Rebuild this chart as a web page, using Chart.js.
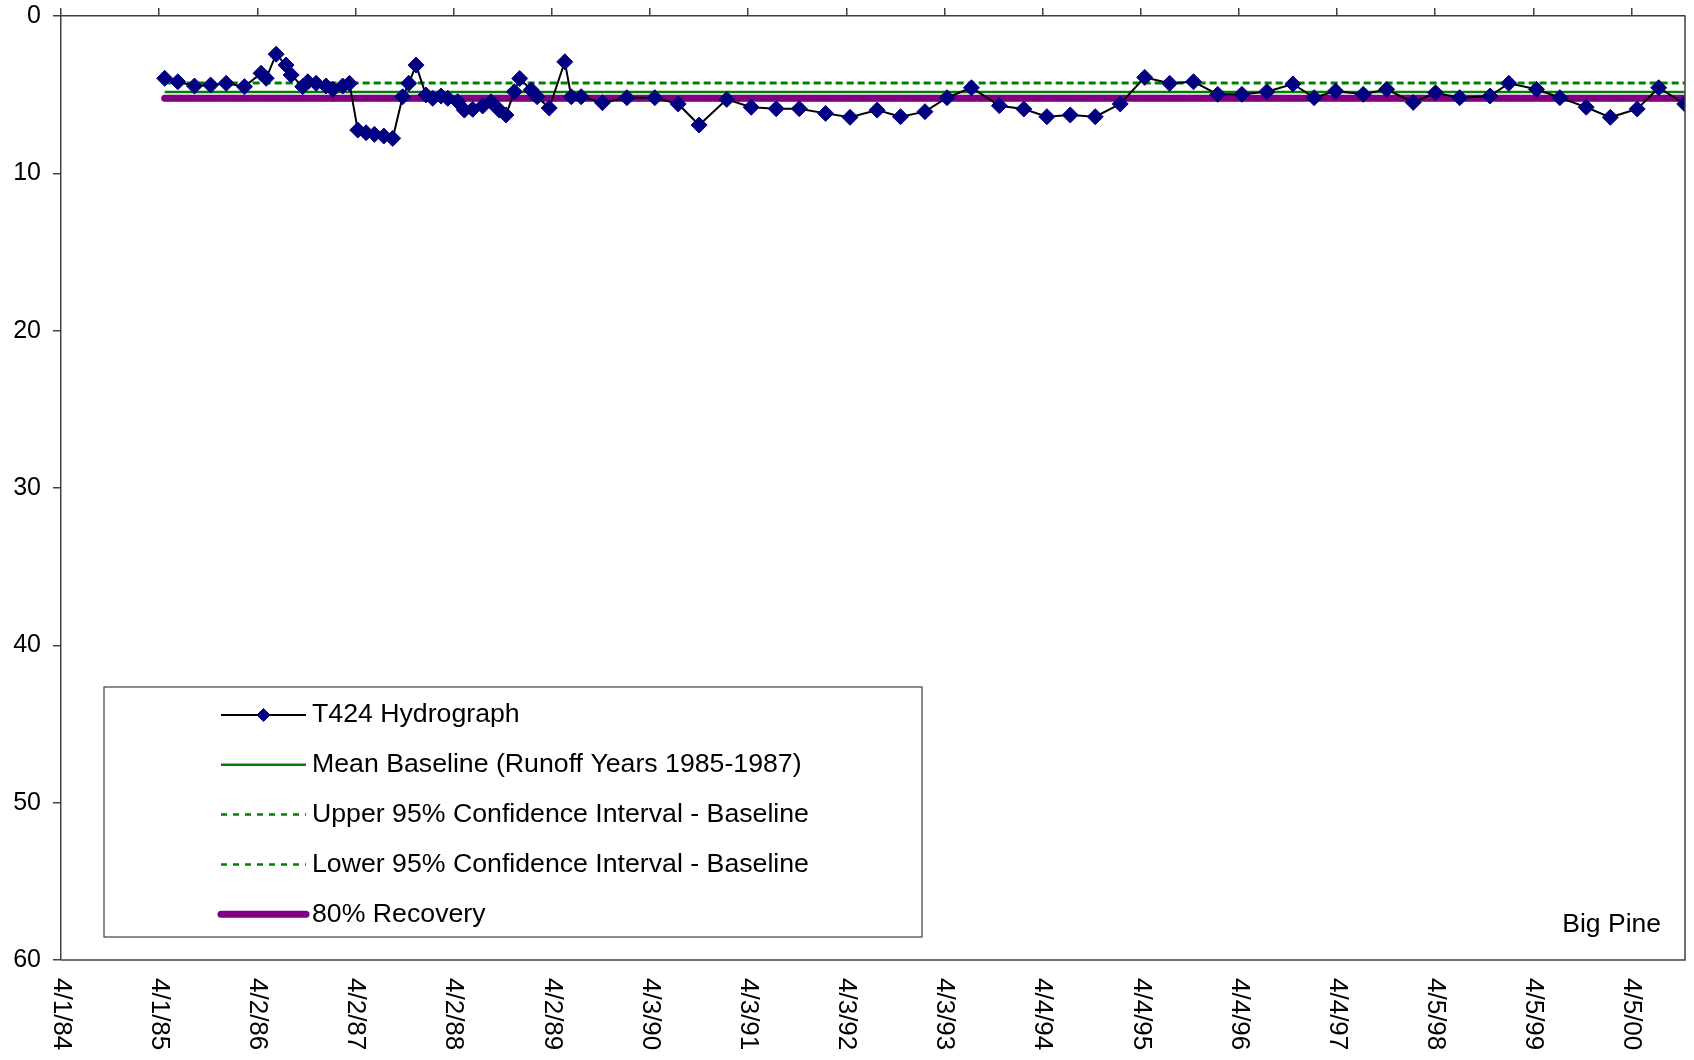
<!DOCTYPE html>
<html>
<head>
<meta charset="utf-8">
<title>T424 Hydrograph - Big Pine</title>
<script src="https://cdn.jsdelivr.net/npm/chart.js@4.4.1/dist/chart.umd.min.js"></script>
<style>
  html, body { margin: 0; padding: 0; background: #fff; }
  #wrap { position: relative; width: 1694px; height: 1060px; }
</style>
</head>
<body>
<div id="wrap"><canvas id="hydroChart"></canvas></div>
<script>
const sampleDates = [
  "1985-04-22", "1985-06-10", "1985-08-11", "1985-10-10", "1985-12-07", "1986-02-13",
  "1986-04-16", "1986-05-05", "1986-06-11", "1986-07-18", "1986-08-06", "1986-09-18",
  "1986-10-07", "1986-11-07", "1986-12-14", "1987-01-08", "1987-02-14", "1987-03-11",
  "1987-04-11", "1987-05-12", "1987-06-12", "1987-07-17", "1987-08-19", "1987-09-25",
  "1987-10-18", "1987-11-14", "1987-12-21", "1988-01-15", "1988-02-15", "1988-03-11",
  "1988-04-17", "1988-05-12", "1988-06-12", "1988-07-19", "1988-08-19", "1988-09-19",
  "1988-10-14", "1988-11-14", "1988-12-04", "1989-01-16", "1989-02-07", "1989-03-24",
  "1989-05-21", "1989-06-14", "1989-07-21", "1989-10-08", "1990-01-07", "1990-04-21",
  "1990-07-17", "1990-10-03", "1991-01-14", "1991-04-15", "1991-07-17", "1991-10-11",
  "1992-01-17", "1992-04-17", "1992-07-27", "1992-10-22", "1993-01-21", "1993-04-13",
  "1993-07-13", "1993-10-25", "1994-01-24", "1994-04-20", "1994-07-16", "1994-10-17",
  "1995-01-18", "1995-04-19", "1995-07-21", "1995-10-18", "1996-01-16", "1996-04-15",
  "1996-07-17", "1996-10-22", "1997-01-09", "1997-03-30", "1997-07-11", "1997-10-06",
  "1998-01-13", "1998-04-06", "1998-07-05", "1998-10-26", "1999-01-04", "1999-04-17",
  "1999-07-13", "1999-10-19", "2000-01-17", "2000-04-26", "2000-07-15", "2000-10-20"
];
const depthBelowGround = [
  3.96, 4.18, 4.45, 4.39, 4.28, 4.49,
  3.64, 3.96, 2.43, 3.12, 3.75, 4.49,
  4.18, 4.28, 4.45, 4.66, 4.45, 4.28,
  7.25, 7.42, 7.52, 7.63, 7.78, 5.13,
  4.28, 3.12, 5.02, 5.23, 5.09, 5.23,
  5.45, 5.98, 5.93, 5.72, 5.45, 5.98,
  6.29, 4.81, 3.97, 4.70, 5.13, 5.85,
  2.91, 5.13, 5.13, 5.51, 5.19, 5.19,
  5.59, 6.93, 5.30, 5.80, 5.89, 5.89,
  6.19, 6.44, 5.98, 6.40, 6.08, 5.19,
  4.56, 5.70, 5.91, 6.40, 6.29, 6.40,
  5.59, 3.90, 4.28, 4.18, 4.98, 4.98,
  4.81, 4.32, 5.19, 4.77, 4.98, 4.66,
  5.49, 4.88, 5.19, 5.09, 4.28, 4.66,
  5.19, 5.80, 6.44, 5.91, 4.56, 5.59
];

// Baseline statistics (ft)
const meanBaselineFt = 4.83;
const upper95Ft = 4.26;
const lower95Ft = 5.32;
const recovery80Ft = 5.23;

// Date axis: starts 4/1/84, one major unit = 365.5 days
const xTickLabels = [
  "4/1/84", "4/1/85", "4/2/86", "4/2/87", "4/2/88", "4/2/89", "4/3/90", "4/3/91", "4/3/92",
  "4/3/93", "4/4/94", "4/4/95", "4/4/96", "4/4/97", "4/5/98", "4/5/99", "4/5/00"
];
const xMajorUnitDays = 365.5;
const xMaxDays = 6047;

const FONT = "'Liberation Sans', Arial, sans-serif";
const BASE_UTC = Date.UTC(1984, 3, 1);

function toDays(s) {
  const [y, m, d] = s.split("-").map(Number);
  return (Date.UTC(y, m - 1, d) - BASE_UTC) / 86400000;
}

const hydroPoints = sampleDates.map((s, i) => ({ x: toDays(s), y: depthBelowGround[i] }));
const flatLine = (v) => sampleDates.map((s) => ({ x: toDays(s), y: v }));

// Plot-area frame (right and bottom edges)
const framePlugin = {
  id: "frame",
  afterDraw(chart) {
    const { ctx, chartArea: a } = chart;
    ctx.save();
    ctx.strokeStyle = "#404040";
    ctx.lineWidth = 1.5;
    ctx.beginPath();
    ctx.moveTo(a.left, a.bottom);
    ctx.lineTo(a.right, a.bottom);
    ctx.lineTo(a.right, a.top);
    ctx.stroke();
    ctx.restore();
  }
};

// Date labels under the plot, rotated to read top-to-bottom
const dateLabelPlugin = {
  id: "dateLabels",
  afterDraw(chart) {
    const { ctx, chartArea: a } = chart;
    const xs = chart.scales.x;
    ctx.save();
    ctx.fillStyle = "#000";
    ctx.font = "26px " + FONT;
    ctx.textAlign = "left";
    ctx.textBaseline = "middle";
    xTickLabels.forEach((lbl, i) => {
      const px = xs.getPixelForValue(i * xMajorUnitDays);
      ctx.save();
      ctx.translate(px, a.bottom + 18);
      ctx.rotate(Math.PI / 2);
      ctx.fillText(lbl, 0, 0);
      ctx.restore();
    });
    ctx.restore();
  }
};

// Boxed legend in the lower-left of the plot, plus the site name
const legendPlugin = {
  id: "boxLegend",
  afterDraw(chart) {
    const { ctx } = chart;
    const box = { left: 104, top: 687, right: 922, bottom: 937 };
    ctx.save();
    ctx.fillStyle = "#fff";
    ctx.fillRect(box.left, box.top, box.right - box.left, box.bottom - box.top);
    ctx.strokeStyle = "#404040";
    ctx.lineWidth = 1.2;
    ctx.strokeRect(box.left, box.top, box.right - box.left, box.bottom - box.top);

    const x0 = 221, x1 = 306, textX = 312;
    chart.data.datasets.forEach((ds, i) => {
      const y = 715 + i * 49.8;
      ctx.save();
      ctx.strokeStyle = ds.borderColor;
      ctx.lineWidth = ds.legendWidth || ds.borderWidth;
      ctx.lineCap = ds.borderCapStyle || "butt";
      ctx.setLineDash(ds.legendDash || []);
      ctx.beginPath();
      ctx.moveTo(x0, y);
      ctx.lineTo(x1, y);
      ctx.stroke();
      ctx.restore();
      if (ds.pointRadius > 0) {
        const r = ds.pointRadius - 1.5, cx = (x0 + x1) / 2;
        ctx.fillStyle = ds.pointBackgroundColor;
        ctx.strokeStyle = ds.pointBorderColor;
        ctx.lineWidth = 1;
        ctx.beginPath();
        ctx.moveTo(cx, y - r); ctx.lineTo(cx + r, y); ctx.lineTo(cx, y + r); ctx.lineTo(cx - r, y);
        ctx.closePath();
        ctx.fill();
        ctx.stroke();
      }
      ctx.fillStyle = "#000";
      ctx.font = "26.7px " + FONT;
      ctx.textAlign = "left";
      ctx.textBaseline = "middle";
      ctx.fillText(ds.label, textX, y);
    });

    ctx.fillStyle = "#000";
    ctx.font = "26.5px " + FONT;
    ctx.textAlign = "right";
    ctx.textBaseline = "middle";
    ctx.fillText("Big Pine", 1661, 925);
    ctx.restore();
  }
};

new Chart(document.getElementById("hydroChart"), {
  type: "line",
  data: {
    datasets: [
      {
        label: "T424 Hydrograph",
        data: hydroPoints,
        borderColor: "#000000",
        borderWidth: 2,
        pointStyle: "rectRot",
        pointRadius: 8,
        pointBackgroundColor: "#000080",
        pointBorderColor: "#000080",
        pointBorderWidth: 1,
        tension: 0,
        order: 0
      },
      {
        label: "Mean Baseline (Runoff Years 1985-1987)",
        data: flatLine(meanBaselineFt),
        borderColor: "#008000",
        borderWidth: 2.5,
        pointRadius: 0,
        order: 2
      },
      {
        label: "Upper 95% Confidence Interval - Baseline",
        data: flatLine(upper95Ft),
        borderColor: "#008000",
        borderWidth: 3,
        borderDash: [7, 4],
        legendDash: [6, 6],
        legendWidth: 2.5,
        pointRadius: 0,
        order: 3
      },
      {
        label: "Lower 95% Confidence Interval - Baseline",
        data: flatLine(lower95Ft),
        borderColor: "#008000",
        borderWidth: 3,
        borderDash: [7, 4],
        legendDash: [6, 6],
        legendWidth: 2.5,
        pointRadius: 0,
        order: 4
      },
      {
        label: "80% Recovery",
        data: flatLine(recovery80Ft),
        borderColor: "#800080",
        borderWidth: 7,
        borderCapStyle: "round",
        pointRadius: 0,
        order: 1
      }
    ]
  },
  options: {
    responsive: true,
    maintainAspectRatio: false,
    animation: false,
    layout: { padding: { left: 0, top: 0, right: 7, bottom: 100 } },
    plugins: {
      legend: { display: false },
      tooltip: { enabled: false }
    },
    scales: {
      x: {
        type: "linear",
        position: "top",
        min: 0,
        max: xMaxDays,
        afterBuildTicks: (s) => {
          s.ticks = xTickLabels.map((_, i) => ({ value: i * xMajorUnitDays }));
        },
        afterFit: (s) => { s.height = 16; },
        ticks: { display: false },
        grid: { drawOnChartArea: false, tickLength: 8, color: "#404040", lineWidth: 1.5 },
        border: { color: "#404040", width: 1.5 }
      },
      y: {
        type: "linear",
        position: "left",
        reverse: true,
        min: 0,
        max: 60,
        afterFit: (s) => { s.width = 61; s.paddingTop = 0; s.paddingBottom = 0; },
        ticks: { stepSize: 10, color: "#000", padding: 12, font: { family: FONT, size: 25 } },
        grid: { drawOnChartArea: false, tickLength: 8, color: "#404040", lineWidth: 1.5 },
        border: { color: "#404040", width: 1.5 }
      }
    }
  },
  plugins: [framePlugin, dateLabelPlugin, legendPlugin]
});
</script>
</body>
</html>
